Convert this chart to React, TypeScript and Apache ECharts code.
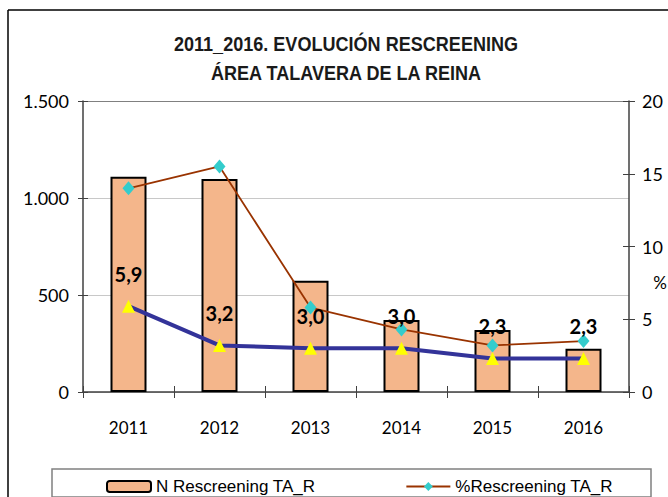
import React, { useEffect, useRef } from "react";
import * as echarts from "echarts";

const years = ["2011", "2012", "2013", "2014", "2015", "2016"];
const nRescreening = [1110, 1098, 574, 371, 320, 223];
const pctRescreening = [14.0, 15.5, 5.8, 4.3, 3.2, 3.5];
const rateValues = [5.9, 3.2, 3.0, 3.0, 2.3, 2.3];
const leftTickLabels: Record<number, string> = { 0: "0", 500: "500", 1000: "1.000", 1500: "1.500" };
const rightTickLabels = ["0", "5", "10", "15", "20"];
const titleLines = ["2011_2016. EVOLUCIÓN RESCREENING", "ÁREA TALAVERA DE LA REINA"];
const seriesNames = ["N Rescreening TA_R", "%Rescreening TA_R", "Tasa"];

const NUM_FONT = "Lato, 'Open Sans', sans-serif";
const NARROW_FONT = "'Liberation Sans', Arial, sans-serif";

export default function App() {
  const ref = useRef<HTMLDivElement>(null);
  useEffect(() => {
    if (!ref.current) return;
    const chart = echarts.init(ref.current, null, { renderer: "svg" });
    const axisColor = "#404040";
    chart.setOption({
      animation: false,
      backgroundColor: "#ffffff",
      grid: { left: 83, right: 39, top: 101, bottom: 105, containLabel: false },
      legend: {
        data: [seriesNames[0], seriesNames[1]],
        left: 101,
        top: 473,
        itemWidth: 44,
        itemHeight: 11,
        itemGap: 90,
        textStyle: { fontFamily: NARROW_FONT, fontSize: 17, color: "#000" },
      },
      xAxis: [
        {
          type: "category",
          data: years,
          axisLine: { lineStyle: { color: axisColor, width: 1.5 } },
          axisTick: { show: true, length: 6, lineStyle: { color: axisColor } },
          axisLabel: { margin: 27, fontFamily: NUM_FONT, fontSize: 17, color: "#000" },
        },
        {
          type: "category",
          data: years,
          position: "bottom",
          axisLine: { show: false },
          axisTick: { show: true, inside: true, length: 6, lineStyle: { color: axisColor } },
          axisLabel: { show: false },
        },
      ],
      yAxis: [
        {
          type: "value",
          min: 0,
          max: 1500,
          interval: 500,
          axisLine: { show: true, lineStyle: { color: axisColor, width: 1.5 } },
          axisTick: { show: true, length: 5, lineStyle: { color: axisColor } },
          axisLabel: {
            margin: 14,
            fontFamily: NUM_FONT,
            fontSize: 18,
            color: "#000",
            formatter: (v: number) => leftTickLabels[v] ?? String(v),
          },
          splitLine: {
            show: true,
            lineStyle: { color: ["#c8c8c8", "#c8c8c8", "#c8c8c8", "#808080"], width: 1 },
          },
        },
        {
          type: "value",
          min: 0,
          max: 20,
          interval: 5,
          position: "right",
          axisLine: { show: true, lineStyle: { color: axisColor, width: 1.5 } },
          axisTick: { show: true, length: 6, lineStyle: { color: axisColor } },
          axisLabel: {
            margin: 13,
            fontFamily: NUM_FONT,
            fontSize: 18,
            color: "#000",
            formatter: (v: number) => rightTickLabels[Math.round(v / 5)] ?? String(v),
          },
          splitLine: { show: false },
        },
        {
          type: "value",
          min: 0,
          max: 1500,
          interval: 500,
          position: "left",
          axisLine: { show: false },
          axisTick: { show: true, inside: true, length: 5, lineStyle: { color: axisColor } },
          axisLabel: { show: false },
          splitLine: { show: false },
        },
        {
          type: "value",
          min: 0,
          max: 20,
          interval: 5,
          position: "right",
          axisLine: { show: false },
          axisTick: { show: true, inside: true, length: 6, lineStyle: { color: axisColor } },
          axisLabel: { show: false },
          splitLine: { show: false },
        },
      ],
      series: [
        {
          name: seriesNames[0],
          type: "bar",
          data: nRescreening,
          yAxisIndex: 0,
          barWidth: 36,
          itemStyle: { color: "#F4B68B", borderColor: "#000", borderWidth: 2 },
          z: 2,
        },
        {
          name: seriesNames[1],
          type: "line",
          data: pctRescreening,
          yAxisIndex: 1,
          symbol: "diamond",
          symbolSize: [12, 14],
          lineStyle: { color: "#993300", width: 1.8 },
          itemStyle: { color: "#33CCCC", borderWidth: 0 },
          z: 3,
        },
        {
          name: seriesNames[2],
          type: "line",
          data: rateValues,
          yAxisIndex: 1,
          symbol: "triangle",
          symbolSize: [13, 13],
          lineStyle: { color: "#333399", width: 4 },
          itemStyle: { color: "#FFFF00", borderWidth: 0 },
          label: {
            show: true,
            position: "top",
            distance: 16,
            fontFamily: NUM_FONT,
            fontWeight: "bold",
            fontSize: 20,
            color: "#000",
            formatter: (p: any) => String(p.value.toFixed(1)).replace(".", ","),
          },
          z: 4,
        },
      ],
      graphic: [
        {
          type: "text",
          x: 346,
          y: 43,
          scaleX: 0.86,
          style: {
            text: titleLines[0],
            fontFamily: NARROW_FONT,
            fontWeight: "bold",
            fontSize: 21,
            fill: "#1a1a1a",
            align: "center",
            verticalAlign: "middle",
          },
        },
        {
          type: "text",
          x: 346,
          y: 72,
          scaleX: 0.86,
          style: {
            text: titleLines[1],
            fontFamily: NARROW_FONT,
            fontWeight: "bold",
            fontSize: 21,
            fill: "#1a1a1a",
            align: "center",
            verticalAlign: "middle",
          },
        },
        {
          type: "line",
          shape: { x1: 8, y1: 10, x2: 668, y2: 10 },
          style: { stroke: "#000", lineWidth: 1.5 },
        },
        {
          type: "line",
          shape: { x1: 8, y1: 10, x2: 8, y2: 497 },
          style: { stroke: "#000", lineWidth: 1.5 },
        },
        {
          type: "rect",
          shape: { x: 52, y: 469, width: 599, height: 28 },
          style: { fill: "none", stroke: "#808080", lineWidth: 1.5 },
          z: -1,
        },
        {
          type: "text",
          x: 667,
          y: 282,
          style: {
            text: "%",
            fontFamily: NUM_FONT,
            fontSize: 17,
            fill: "#000",
            align: "right",
            verticalAlign: "middle",
          },
        },
      ],
    });
    return () => chart.dispose();
  }, []);
  return (
    <div
      ref={ref}
      style={{ position: "fixed", left: 0, top: 0, width: 668, height: 497, background: "#fff" }}
    />
  );
}
